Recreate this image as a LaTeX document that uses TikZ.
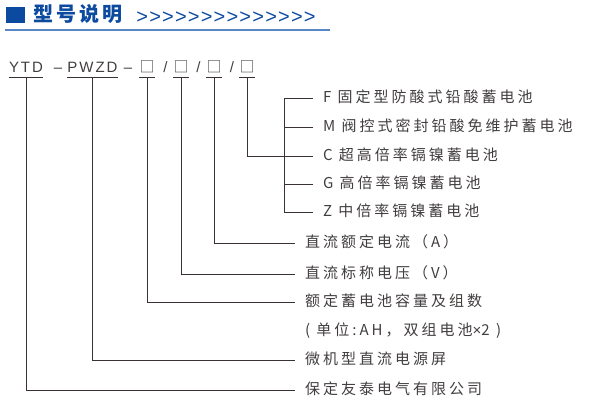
\documentclass[tikz,border=0pt]{standalone}
\usepackage{fontspec}
\usepackage{xcolor}
\usetikzlibrary{positioning}
\newfontfamily\cnfont[LetterSpace=20]{Noto Sans CJK SC}
\newfontfamily\titlefont[LetterSpace=15]{Noto Sans CJK SC}
\newfontfamily\codefont[LetterSpace=13]{Liberation Sans}
\newfontfamily\chevfont[LetterSpace=6]{Liberation Sans}
\definecolor{deepblue}{RGB}{12,74,160}
\definecolor{ruleblue}{RGB}{88,134,198}
\definecolor{txtgray}{RGB}{66,62,62}
\definecolor{linegray}{RGB}{58,50,50}

\begin{document}
\begin{tikzpicture}[
    x=1pt, y=-1pt,
    line width=0.9pt,
    code/.style={anchor=base, inner xsep=0pt, inner ysep=5pt,
        text height=11pt, text depth=0pt,
        font=\codefont\fontsize{15}{15}\selectfont, text=txtgray},
    slot/.style={code, font=\cnfont\fontsize{15}{15}\selectfont},
    lbl/.style={anchor=west, inner sep=0pt, outer xsep=10pt,
        text height=11pt, text depth=2pt,
        font=\cnfont\fontsize{15}{15}\selectfont, text=txtgray},
    link/.style={draw=linegray}
]
\useasboundingbox (0,0) rectangle (595,402);

%-------------------------
% Title bar
%-------------------------
\fill[deepblue] (6,7) rectangle (25,23);
\node[anchor=base west, inner sep=0pt, text=deepblue,
    font=\titlefont\bfseries\fontsize{20}{20}\selectfont] (title) at (33,21.5) {型号说明};
\node[anchor=base west, inner sep=0pt, text=deepblue,
    font=\chevfont\fontsize{20}{20}\selectfont] (chev) at (136,23) {>>>>>>>>>>>>>>};
\draw[ruleblue, line width=1.5pt] (5,30) -- (330,30);

%-------------------------
% Model code
%-------------------------
\node[code] (ytd)    at (26,72)    {YTD};
\node[code] (dashA)  at (58,72)    {–};
\node[code] (pwzd)   at (92.5,72)  {PWZD};
\node[code] (dashB)  at (128,72)   {–};
\node[slot] (boxA)   at (147,72)   {□};
\node[code] (slashA) at (165.5,72) {/};
\node[slot] (boxB)   at (181,72)   {□};
\node[code] (slashB) at (198.5,72) {/};
\node[slot] (boxC)   at (214,72)   {□};
\node[code] (slashC) at (232,72)   {/};
\node[slot] (boxD)   at (247,72)   {□};

% Underlines
\foreach \n in {ytd,pwzd,boxA,boxB,boxC,boxD}
    \draw[link] (\n.south west) -- (\n.south east);

%-------------------------
% Battery types
%-------------------------
\node[lbl] (optF) at (313,98)  {F 固定型防酸式铅酸蓄电池};
\node[lbl] (optM) at (313,127) {M 阀控式密封铅酸免维护蓄电池};
\node[lbl] (optC) at (313,156) {C 超高倍率镉镍蓄电池};
\node[lbl] (optG) at (313,184) {G 高倍率镉镍蓄电池};
\node[lbl] (optZ) at (313,212) {Z 中倍率镉镍蓄电池};

%-------------------------
% Meanings
%-------------------------
\node[lbl] (current)  at (295,243) {直流额定电流（A）};
\node[lbl] (voltage)  at (295,274) {直流标称电压（V）};
\node[lbl] (capacity) at (295,302) {额定蓄电池容量及组数};
\node[lbl] (unit)     at (295,331) {( 单位:AH，双组电池{\codefont ×}2 )};
\node[lbl] (screen)   at (295,360) {微机型直流电源屏};
\node[lbl] (company)  at (295,390) {保定友泰电气有限公司};

%-------------------------
% Connectors
%-------------------------
\draw[link] (ytd.south)  |- (company.west);
\draw[link] (pwzd.south) |- (screen.west);
\draw[link] (boxA.south) |- (capacity.west);
\draw[link] (boxB.south) |- (voltage.west);
\draw[link] (boxC.south) |- (current.west);
\draw[link] (boxD.south) |- (optC.west);

% Fork for battery types
\coordinate (fork) at (284,156);
\draw[link] (optF.west) -| (optZ.west -| fork) -- (optZ.west);
\draw[link] (optM.west) -- (optM.west -| fork);
\draw[link] (optG.west) -- (optG.west -| fork);
\end{tikzpicture}
\end{document}
